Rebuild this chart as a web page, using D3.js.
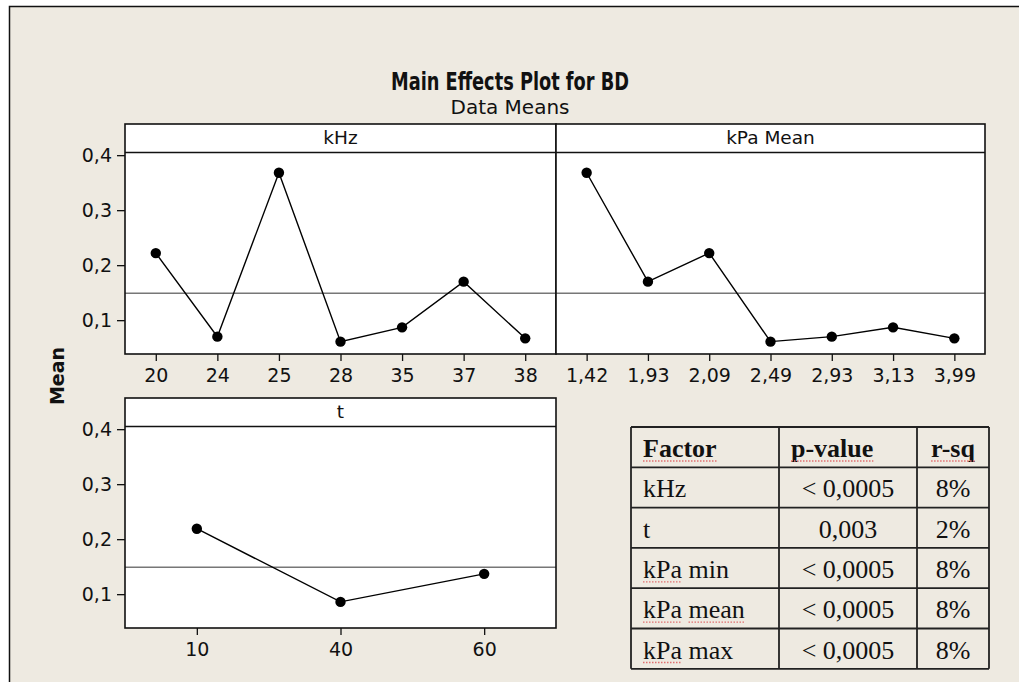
<!DOCTYPE html>
<html>
<head>
<meta charset="utf-8">
<script src="https://cdn.jsdelivr.net/npm/d3@7"></script>
<style>
  body { margin: 0; background: #ffffff; }
  svg { display: block; font-family: "DejaVu Sans", Verdana, sans-serif; }
</style>
</head>
<body>
<div id="chart"></div>
<script>
// factor levels and their means
const khzLevels = ["20", "24", "25", "28", "35", "37", "38"];
const khzMeans = [0.222, 0.070, 0.368, 0.061, 0.087, 0.170, 0.067];
const kpaLevels = ["1,42", "1,93", "2,09", "2,49", "2,93", "3,13", "3,99"];
const kpaMeans = [0.368, 0.170, 0.222, 0.061, 0.070, 0.087, 0.067];
const tLevels = ["10", "40", "60"];
const tMeans = [0.219, 0.086, 0.137];
const grandMean = 0.149;
const yTicks = [0.1, 0.2, 0.3, 0.4];

// summary table
const tableHeader = ["Factor", "p-value", "r-sq"];
const factors = ["kHz", "t", "kPa min", "kPa mean", "kPa max"];
const pValues = ["< 0,0005", "0,003", "< 0,0005", "< 0,0005", "< 0,0005"];
const rSq = ["8%", "2%", "8%", "8%", "8%"];
const squiggled = ["Factor", "p-value", "r-sq", "kPa", "mean"];

const width = 1019, height = 682;
const panelH = 230;
const pxPerUnit = 550;
const yMin = 0.0385, yMax = yMin + panelH / pxPerUnit;
const stripValue = 0.405;

const locale = d3.formatLocale({ decimal: ",", thousands: ".", grouping: [3], currency: ["", ""] });
const fmt = locale.format(".1f");

const svg = d3.select("#chart").append("svg")
    .attr("width", width)
    .attr("height", height);

// graph background with frame on left/top
svg.append("rect")
    .attr("x", 9).attr("y", 6)
    .attr("width", width - 9).attr("height", height - 6)
    .attr("fill", "#eeeae1");
svg.append("path")
    .attr("d", `M9.5,${height} V6.5 H${width}`)
    .attr("fill", "none")
    .attr("stroke", "#111")
    .attr("stroke-width", 1.5);

svg.append("text")
    .attr("x", 510).attr("y", 90)
    .attr("text-anchor", "middle")
    .attr("font-size", 24)
    .attr("font-weight", "bold")
    .attr("textLength", 238)
    .attr("lengthAdjust", "spacingAndGlyphs")
    .attr("fill", "#111")
    .text("Main Effects Plot for BD");

svg.append("text")
    .attr("x", 510).attr("y", 114)
    .attr("text-anchor", "middle")
    .attr("font-size", 20)
    .attr("fill", "#111")
    .text("Data Means");

svg.append("text")
    .attr("transform", "translate(64,376) rotate(-90)")
    .attr("text-anchor", "middle")
    .attr("font-size", 19)
    .attr("font-weight", "bold")
    .attr("fill", "#111")
    .text("Mean");

function styleAxis(a) {
    a.select(".domain").remove();
    a.attr("font-family", "DejaVu Sans").attr("font-size", 19);
    a.selectAll("text").attr("fill", "#111");
    a.selectAll("line").attr("stroke", "#111").attr("stroke-width", 1.3);
}

function drawPanel(opts) {
    const { x, w, top, levels, means, label, showY } = opts;
    const bottom = top + panelH;
    const g = svg.append("g");

    const xs = d3.scalePoint().domain(levels).range([x, x + w]).padding(0.5);
    const y = d3.scaleLinear().domain([yMin, yMax]).range([bottom, top]);

    g.append("rect")
        .attr("x", x).attr("y", top)
        .attr("width", w).attr("height", panelH)
        .attr("fill", "#ffffff");

    // reference line at overall mean
    g.append("line")
        .attr("x1", x).attr("x2", x + w)
        .attr("y1", y(grandMean)).attr("y2", y(grandMean))
        .attr("stroke", "#777")
        .attr("stroke-width", 1.5);

    const pts = levels.map((l, i) => [xs(l), y(means[i])]);

    g.append("path")
        .attr("d", d3.line()(pts))
        .attr("fill", "none")
        .attr("stroke", "#000")
        .attr("stroke-width", 1.4);

    g.selectAll("circle")
        .data(pts)
        .enter().append("circle")
        .attr("cx", d => d[0])
        .attr("cy", d => d[1])
        .attr("r", 5.2)
        .attr("fill", "#000");

    // strip header
    g.append("line")
        .attr("x1", x).attr("x2", x + w)
        .attr("y1", y(stripValue)).attr("y2", y(stripValue))
        .attr("stroke", "#111")
        .attr("stroke-width", 1.5);

    g.append("text")
        .attr("x", x + w / 2)
        .attr("y", top + 20)
        .attr("text-anchor", "middle")
        .attr("font-size", 18.5)
        .attr("fill", "#111")
        .text(label);

    const xAxis = g.append("g")
        .attr("transform", `translate(0,${bottom})`)
        .call(d3.axisBottom(xs).tickSize(7).tickPadding(8));
    styleAxis(xAxis);

    if (showY) {
        const yAxis = g.append("g")
            .attr("transform", `translate(${x},0)`)
            .call(d3.axisLeft(y).tickValues(yTicks).tickSize(8).tickPadding(5).tickFormat(fmt));
        styleAxis(yAxis);
    }

    g.append("rect")
        .attr("x", x).attr("y", top)
        .attr("width", w).attr("height", panelH)
        .attr("fill", "none")
        .attr("stroke", "#111")
        .attr("stroke-width", 1.6);
}

drawPanel({ x: 125, w: 431, top: 124, levels: khzLevels, means: khzMeans, label: "kHz", showY: true });
drawPanel({ x: 556, w: 429, top: 124, levels: kpaLevels, means: kpaMeans, label: "kPa Mean", showY: false });
drawPanel({ x: 125, w: 431, top: 398, levels: tLevels, means: tMeans, label: "t", showY: true });

// table
const colEdges = [631, 779, 917, 989];
const tableTop = 427, rowH = 40.3;
const rows = [tableHeader].concat(factors.map((f, i) => [f, pValues[i], rSq[i]]));
const tg = svg.append("g").attr("font-family", "'Liberation Serif', 'Times New Roman', serif");

rows.forEach((row, r) => {
    const ty = tableTop + r * rowH + 30;
    row.forEach((cell, c) => {
        const header = r === 0;
        let tx, anchor;
        if (c === 0 || (header && c === 1)) {
            tx = colEdges[c] + 12;
            anchor = "start";
        } else {
            tx = (colEdges[c] + colEdges[c + 1]) / 2;
            anchor = "middle";
        }
        const text = tg.append("text")
            .attr("x", tx).attr("y", ty)
            .attr("text-anchor", anchor)
            .attr("font-size", 26)
            .attr("font-weight", header ? "bold" : "normal")
            .attr("fill", "#111")
            .text(cell);

        // spell-check squiggles under some words
        const node = text.node();
        let idx = 0;
        cell.split(" ").forEach(word => {
            if (squiggled.includes(word)) {
                const x0 = node.getStartPositionOfChar(idx).x;
                const x1 = node.getEndPositionOfChar(idx + word.length - 1).x;
                tg.append("line")
                    .attr("x1", x0).attr("x2", x1)
                    .attr("y1", ty + 4).attr("y2", ty + 4)
                    .attr("stroke", "#e07070")
                    .attr("stroke-width", 1.3)
                    .attr("stroke-dasharray", "1.5,1.5");
            }
            idx += word.length + 1;
        });
    });
});

for (let r = 0; r <= rows.length; r++) {
    tg.append("line")
        .attr("x1", colEdges[0]).attr("x2", colEdges[3])
        .attr("y1", tableTop + r * rowH).attr("y2", tableTop + r * rowH)
        .attr("stroke", "#222").attr("stroke-width", 1.8);
}
colEdges.forEach(cx => {
    tg.append("line")
        .attr("x1", cx).attr("x2", cx)
        .attr("y1", tableTop).attr("y2", tableTop + rows.length * rowH)
        .attr("stroke", "#222").attr("stroke-width", 1.8);
});
</script>
</body>
</html>
